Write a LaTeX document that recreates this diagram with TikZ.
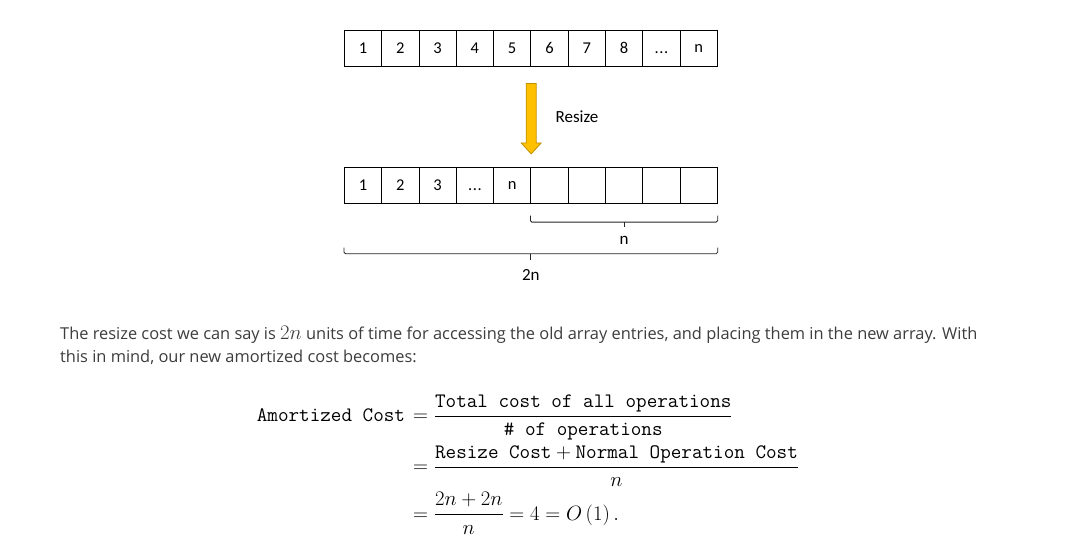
\documentclass[tikz,border=0pt]{standalone}
\usepackage{amsmath}
\usepackage{fontspec}
\usetikzlibrary{calc}
\newfontfamily\calfont{Carlito}
\newfontfamily\parafont{Open Sans}
\newcommand\celldots{\vphantom{1}{.}\kern0.6pt{.}\kern0.6pt{.}}
\definecolor{txtgray}{HTML}{3D3D3D}
\definecolor{arrowfill}{HTML}{FFC000}
\definecolor{arrowdraw}{HTML}{C09000}
\begin{document}
\begin{tikzpicture}[x=1pt,y=-1pt,
 cell/.style={draw=black, line width=0.8pt, minimum width=37.3pt, minimum height=36pt, inner sep=0pt, font=\calfont\fontsize{16.5}{16.5}\selectfont},
 lbl/.style={font=\calfont\fontsize{17}{17}\selectfont, inner sep=0pt},
 bracepath/.style={draw=black!85, line width=0.8pt, rounded corners=1.5pt},
 para/.style={font=\parafont\fontsize{16.4}{18}\selectfont, text=txtgray, inner sep=0pt, anchor=base west},
 eq/.style={font=\fontsize{20.55}{24}\selectfont, inner sep=0pt, anchor=base west},
 arrowshape/.style={draw=arrowdraw, fill=arrowfill, line width=0.8pt, line join=miter}]

\fill[white] (0,0) rectangle (1090,552);
\useasboundingbox (0,0) rectangle (1090,552);

% top array
\foreach \t [count=\i] in {1,2,3,4,5,6,7,8,\celldots,n}
  \node[cell] (a\i) at ({344.3+37.3*(\i-0.5)},48) {\t};

% bottom array
\foreach \t [count=\i] in {1,2,3,\celldots,n}
  \node[cell] (b\i) at ({344.3+37.3*(\i-0.5)},185.3) {\t};
\foreach \i in {6,7,8,9,10}
  \node[cell] (b\i) at ({344.3+37.3*(\i-0.5)},185.3) {};

% resize arrow
\coordinate (arrtop) at ($(a5.south east)+(0,17)$);
\coordinate (arrtip) at ($(b5.north east)+(0,-13)$);
\draw[arrowshape] ($(arrtop)+(-5,0)$) -- ($(arrtop)+(5,0)$) -- ($(arrtip)+(5,-11)$) -- ($(arrtip)+(10,-11)$) -- (arrtip) -- ($(arrtip)+(-10,-11)$) -- ($(arrtip)+(-5,-11)$) -- cycle;
\node[lbl] (rs) at (577,117) {Resize};

% brace n
\coordinate (n1) at ($(b6.south west)+(0,18.4)$);
\coordinate (n2) at ($(b10.south east)+(0,18.4)$);
\draw[bracepath] ($(n1)+(0,-6.5)$) -- (n1) -- (n2) -- ($(n2)+(0,-6.5)$);
\coordinate (nm) at ($(n1)!0.5!(n2)$);
\draw[bracepath] (nm) -- ($(nm)+(0,5)$);
\node[lbl] (nl) at ($(nm)+(0,18.5)$) {n};

% brace 2n
\coordinate (m1) at ($(b1.south west)+(0,50)$);
\coordinate (m2) at ($(b10.south east)+(0,50)$);
\draw[bracepath] ($(m1)+(0,-6)$) -- (m1) -- (m2) -- ($(m2)+(0,-6)$);
\coordinate (mm) at ($(m1)!0.5!(m2)$);
\draw[bracepath] (mm) -- ($(mm)+(0,6)$);
\node[lbl] (ml) at ($(mm)+(0,21.5)$) {2n};

% paragraph
\node[para] (p1) at (60,339) {The resize cost we can say is {\fontsize{19.5}{19.5}\selectfont$2n$} units of time for accessing the old array entries, and placing them in the new array. With};
\node[para] (p2) at (60,362) {this in mind, our new amortized cost becomes:};

% equations
\node[eq] (eq0) at (256.7,421.7) {$\texttt{Amortized Cost}$};
\node[eq] (eq1) at (413,421.7) {$= \dfrac{\texttt{Total cost of all operations}}{\texttt{\#\ of operations}}$};
\node[eq] (eq2) at (413,472.3) {$= \dfrac{\texttt{Resize Cost} + \texttt{Normal Operation Cost}}{n}$};
\node[eq] (eq3) at (413,520) {$= \dfrac{2n + 2n}{n} = 4 = O\left(1\right).$};
\end{tikzpicture}
\end{document}
